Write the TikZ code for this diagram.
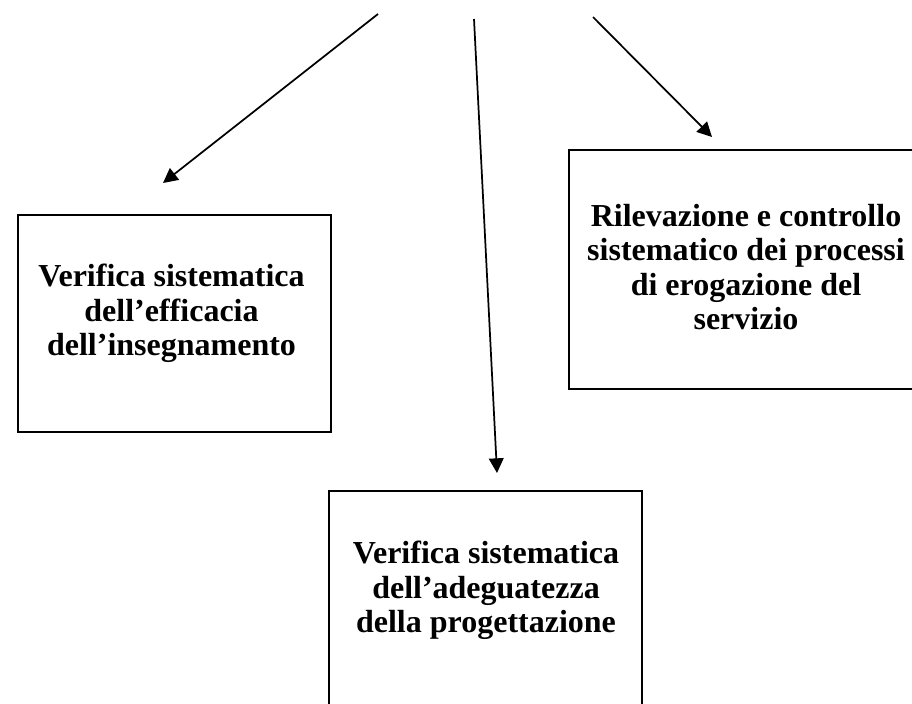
\documentclass[tikz,border=0pt]{standalone}
\usepackage{fontspec}
\setmainfont{Liberation Serif}
\usetikzlibrary{arrows.meta}
\tikzset{
  boxnode/.style={draw, line width=1.5pt, rectangle, inner sep=0pt},
  txt/.style={inner sep=0pt, align=center, font=\bfseries\fontsize{24}{25.7}\selectfont},
  conn/.style={line width=1.3pt, -{Triangle[length=11pt, width=11pt]}}
}
\begin{document}
\begin{tikzpicture}[x=0.75pt, y=-0.75pt]
\useasboundingbox (0,0) rectangle (912,703);
\clip (0,0) rectangle (912,703);
% boxes
\node[boxnode, minimum width=313*0.75pt, minimum height=217*0.75pt] (lbox) at (174.5,323.5) {};
\node[boxnode, minimum width=354*0.75pt, minimum height=239*0.75pt] (rbox) at (746,269.5) {};
\node[boxnode, minimum width=313*0.75pt, minimum height=240*0.75pt] (bbox) at (485.5,611) {};
% texts
\node[txt] (ltxt) at (171.5,313.5) {Verifica sistematica\\dell’efficacia\\dell’insegnamento};
\node[txt] (rtxt) at (746,267) {Rilevazione e controllo\\sistematico dei processi\\di erogazione del\\servizio};
\node[txt] (btxt) at (486,590.5) {Verifica sistematica\\dell’adeguatezza\\della progettazione};
% connector ends
\coordinate (s1) at (378,14);
\coordinate (t1) at (163,183);
\coordinate (s2) at (474,19);
\coordinate (t2) at (497,473);
\coordinate (s3) at (593,17);
\coordinate (t3) at (712,137);
\draw[conn] (s1) -- (t1);
\draw[conn] (s2) -- (t2);
\draw[conn] (s3) -- (t3);
\end{tikzpicture}
\end{document}
